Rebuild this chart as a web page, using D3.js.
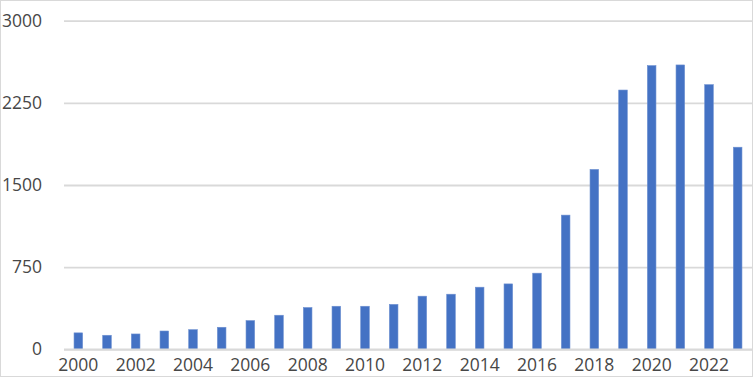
<!DOCTYPE html>
<html><head><meta charset="utf-8">
<script src="https://cdn.jsdelivr.net/npm/d3@7"></script>
<style>body{margin:0;background:#fff}svg{display:block}</style>
</head><body><svg id="c" width="754" height="379"></svg>
<script>
const years = [2000,2001,2002,2003,2004,2005,2006,2007,2008,2009,2010,2011,2012,2013,2014,2015,2016,2017,2018,2019,2020,2021,2022,2023];
const values = [150,128,140,167,179,201,262,311,381,393,393,410,485,503,567,597,695,1225,1642,2367,2590,2596,2416,1845];
const yTicks = [0,750,1500,2250,3000];
const xTickLabels = years.filter(y => y % 2 === 0);

(function(){
const svg = d3.select("#c");
const W = 754, H = 379;
const mLeft = 64, mRight = 752, mTop = 20.7, mBottom = 349.3;
svg.append("rect").attr("x",0.5).attr("y",0.5).attr("width",W-2).attr("height",H-3)
  .attr("fill","#fff").attr("stroke","#d9d9d9").attr("stroke-width",1);

const x = d3.scaleBand().domain(years).range([mLeft,mRight]).paddingInner(0.7).paddingOuter(0.35);
const y = d3.scaleLinear().domain([0,3000]).range([mBottom,mTop]);

const font = "'Open Sans', sans-serif";
const yAxis = d3.axisLeft(y).tickValues(yTicks).tickSize(-(mRight-mLeft)).tickPadding(22).tickFormat(d3.format("d"));
const gy = svg.append("g").attr("transform",`translate(${mLeft},0)`).call(yAxis);
gy.select(".domain").remove();
gy.selectAll(".tick line").attr("stroke","#d9d9d9").attr("stroke-width",1.8);
gy.selectAll(".tick text").attr("fill","#474747").style("font-family",font).style("font-size","17.5px");

svg.append("g").selectAll("rect").data(years).join("rect")
  .attr("x",d=>x(d)).attr("width",x.bandwidth())
  .attr("y",(d,i)=>y(values[i])).attr("height",(d,i)=>y(0)-y(values[i]))
  .attr("fill","#4472c4").attr("stroke","#6d8fd0").attr("stroke-width",0.6);

const xAxis = d3.axisBottom(x).tickValues(xTickLabels).tickSize(0).tickPadding(9);
const gx = svg.append("g").attr("transform",`translate(0,${mBottom})`).call(xAxis);
gx.select(".domain").attr("stroke","#d9d9d9").attr("stroke-width",1.8).attr("d",`M${mLeft},0H${mRight}`);
gx.selectAll(".tick text").attr("fill","#474747").style("font-family",font).style("font-size","17.5px");
})();
</script></body></html>
